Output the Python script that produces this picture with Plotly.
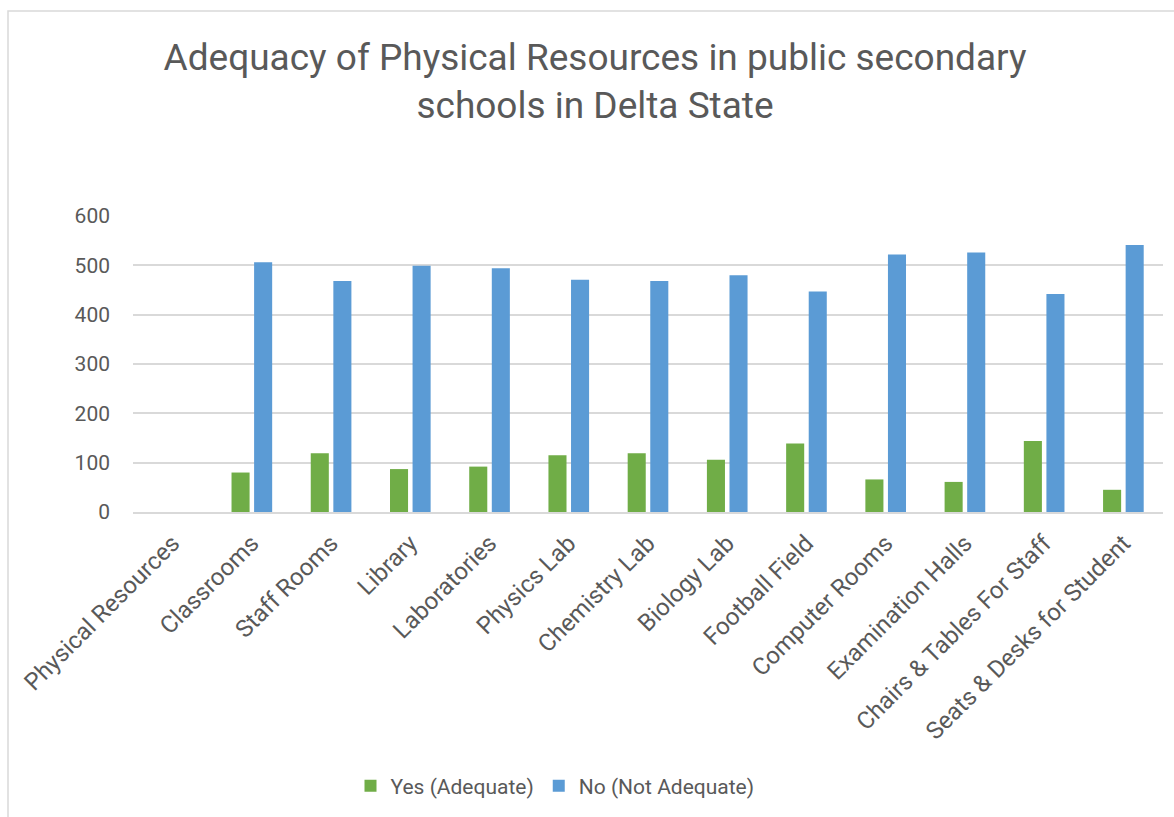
import plotly.graph_objects as go

categories = [
    "Physical Resources", "Classrooms", "Staff Rooms", "Library", "Laboratories",
    "Physics Lab", "Chemistry Lab", "Biology Lab", "Football Field",
    "Computer Rooms", "Examination Halls", "Chairs & Tables For Staff",
    "Seats & Desks for Student",
]
yes_adequate = [None, 80, 119, 87, 92, 115, 119, 106, 139, 66, 61, 144, 45]
no_not_adequate = [None, 506, 468, 499, 494, 471, 468, 480, 447, 522, 526, 442, 541]
y_ticks = [0, 100, 200, 300, 400, 500, 600]

TEXT = "#595959"
FONT = "Roboto"

W, H = 1174, 817
ML, MR, MT, MB = 133, W - 1163, 216, H - 512
PW, PH = W - ML - MR, H - MT - MB

fig = go.Figure()
fig.add_trace(go.Bar(name="Yes (Adequate)", x=categories, y=yes_adequate,
                     marker=dict(color="#70AD47", line=dict(width=0))))
fig.add_trace(go.Bar(name="No (Not Adequate)", x=categories, y=no_not_adequate,
                     marker=dict(color="#5B9BD5", line=dict(width=0))))

# light frame around the whole chart
def px_x(v):
    return (v - ML) / PW

def px_y(v):
    return (H - MB - v) / PH

fig.add_shape(type="rect", xref="paper", yref="paper",
              x0=px_x(8), x1=px_x(1190), y0=px_y(11), y1=px_y(830),
              line=dict(color="#D9D9D9", width=1.5), fillcolor="rgba(0,0,0,0)",
              layer="below")

fig.update_layout(
    width=W, height=H,
    margin=dict(l=ML, r=MR, t=MT, b=MB, pad=0),
    paper_bgcolor="white", plot_bgcolor="white",
    barmode="group", bargap=0.43, bargroupgap=0.2,
    font=dict(family=FONT, color=TEXT, size=21),
    title=dict(
        text="Adequacy of Physical Resources in public secondary<br>schools in Delta State",
        x=595 / W, xref="container", xanchor="center",
        y=1 - 70 / H, yref="container", yanchor="top",
        font=dict(family=FONT, size=37, color=TEXT),
    ),
    legend=dict(
        orientation="h", x=px_x(555), xanchor="center",
        y=px_y(786), yanchor="middle",
        font=dict(family=FONT, size=21, color=TEXT),
        itemwidth=30, traceorder="normal",
    ),
    xaxis=dict(
        type="category", tickangle=-45, showgrid=False, ticks="",
        showline=True, linecolor="#D9D9D9", linewidth=1.5,
        tickfont=dict(family=FONT, size=24, color=TEXT),
        ticklabelstandoff=6,
        range=[-0.5, len(categories) - 0.5],
    ),
    yaxis=dict(
        range=[0, 600], tickvals=y_ticks, ticks="",
        showgrid=True, gridcolor="#D9D9D9", gridwidth=1.5,
        zeroline=False, showline=False,
        tickfont=dict(family=FONT, size=21, color=TEXT),
        ticklabelstandoff=22,
    ),
)

fig.write_html("out.html")
